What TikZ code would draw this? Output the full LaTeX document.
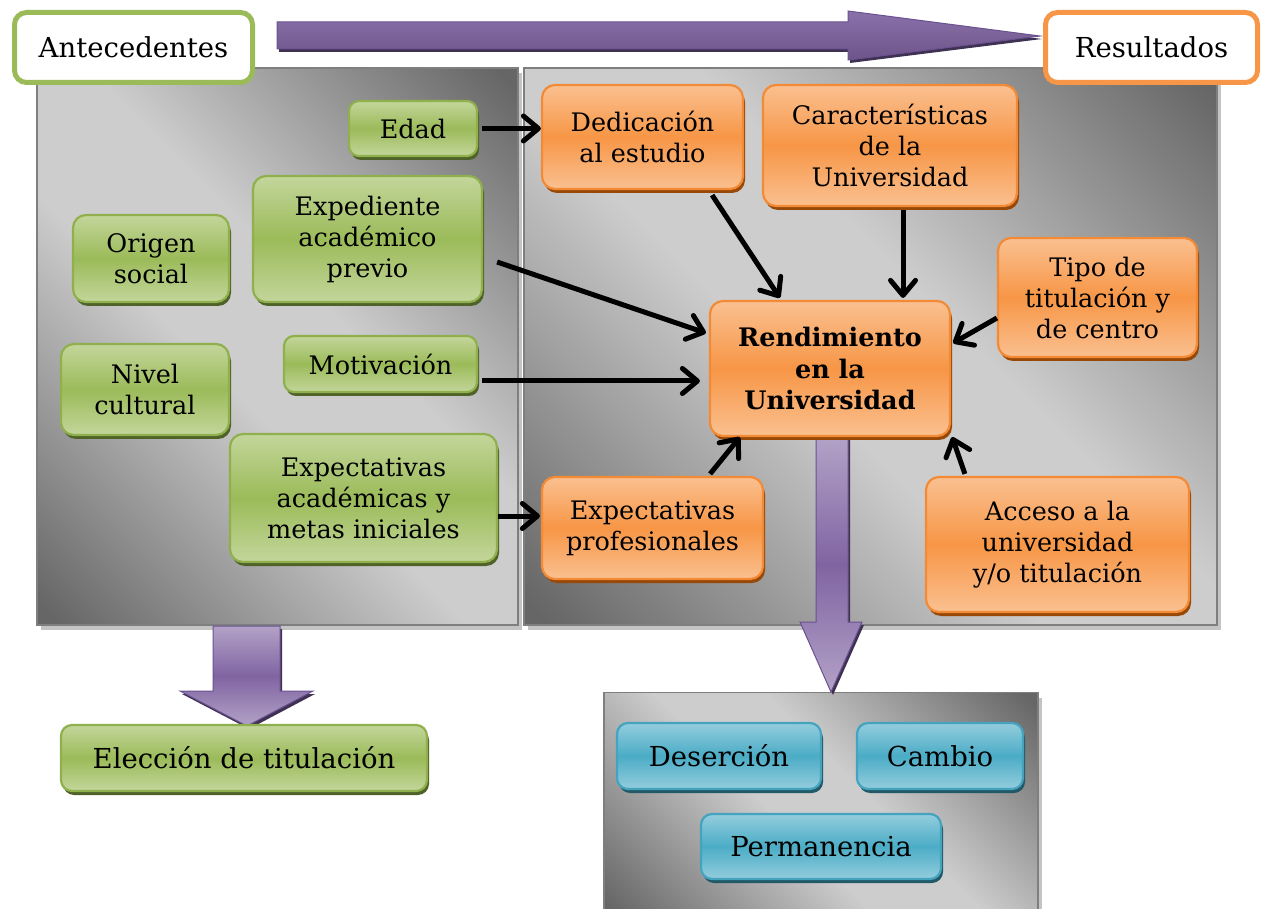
\documentclass[tikz,border=0pt]{standalone}
\usepackage{fontspec}
\setmainfont{DejaVu Serif}
\usetikzlibrary{arrows.meta,shadows,calc}
\definecolor{grnL}{HTML}{C3D69B}
\definecolor{grnM}{HTML}{9BBB59}
\definecolor{grnB}{HTML}{8FB04D}
\definecolor{grnS}{HTML}{4F6228}
\definecolor{orgL}{HTML}{FAC090}
\definecolor{orgM}{HTML}{F79646}
\definecolor{orgB}{HTML}{F38A36}
\definecolor{orgS}{HTML}{984807}
\definecolor{bluL}{HTML}{93CDDD}
\definecolor{bluM}{HTML}{4BACC6}
\definecolor{bluB}{HTML}{45A3BD}
\definecolor{bluS}{HTML}{215968}
\definecolor{purM}{HTML}{8064A2}
\definecolor{purL}{HTML}{B3A2C7}
\definecolor{purB}{HTML}{6A5290}
\definecolor{purS}{HTML}{3F3151}
\definecolor{panD}{HTML}{666666}
\definecolor{panL}{HTML}{CDCDCD}
\definecolor{panB}{HTML}{7F7F7F}
\definecolor{panS}{HTML}{C4C4C4}
\pgfdeclareverticalshading{panelshade}{100bp}{color(0bp)=(panD); color(16bp)=(panD); color(44bp)=(panL); color(56bp)=(panL); color(84bp)=(panD); color(100bp)=(panD)}
\tikzset{
  panel/.style={draw=panB, line width=1.5pt, shading=panelshade, shading angle=-45, inner sep=0pt,
    drop shadow={shadow xshift=4pt, shadow yshift=-5pt, fill=panS, opacity=1}},
  box/.style={rounded corners=13pt, line width=2.2pt, align=center, inner sep=0pt, text=black,
    font=\fontsize{25.5}{31}\selectfont},
  gbox/.style={box, draw=grnB, top color=grnL, bottom color=grnL, middle color=grnM,
    drop shadow={shadow xshift=2pt, shadow yshift=-4pt, fill=grnS, opacity=1}},
  obox/.style={box, draw=orgB, top color=orgL, bottom color=orgL, middle color=orgM,
    drop shadow={shadow xshift=2pt, shadow yshift=-4pt, fill=orgS, opacity=1}},
  bbox/.style={box, draw=bluB, top color=bluL, bottom color=bluL, middle color=bluM,
    font=\fontsize{27.5}{33}\selectfont,
    drop shadow={shadow xshift=2pt, shadow yshift=-4pt, fill=bluS, opacity=1}},
  tbox/.style={rounded corners=12pt, line width=5pt, fill=white, inner sep=0pt, text=black,
    font=\fontsize{27.5}{33}\selectfont},
  parrow/.style={draw=purB, line width=1pt, top color=purL, bottom color=purL, middle color=purM,
    drop shadow={shadow xshift=2pt, shadow yshift=-3pt, fill=purS, opacity=1}},
  parrowh/.style={draw=purB, line width=1pt, top color=purM!80!purL, bottom color=purM!85!black,
    drop shadow={shadow xshift=2pt, shadow yshift=-3pt, fill=purS, opacity=1}},
  arr/.style={draw=black, line width=5pt, -{Straight Barb[length=15pt,width=25pt,round]}}
}
\begin{document}
\begin{tikzpicture}[x=1pt,y=-1pt]
\useasboundingbox (0,0) rectangle (1262,909);

% panels
\node[panel, minimum width=481pt, minimum height=557pt] (lpan) at (277.5,346.5) {};
\node[panel, minimum width=693pt, minimum height=557pt] (rpan) at (870.5,346.5) {};
\node[panel, minimum width=434pt, minimum height=225pt] (bpan) at (821,805) {};

% block arrows
\path[parrowh] (277,22) -- (848,22) -- (848,11) -- (1040,36) -- (848,60) -- (848,49) -- (277,49) -- cycle;
\path[parrow] (213,626) -- (280,626) -- (280,691) -- (313,691) -- (247,726) -- (180,691) -- (213,691) -- cycle;
\path[parrow] (816,437) -- (848,437) -- (848,622) -- (862,622) -- (831,692) -- (800,622) -- (816,622) -- cycle;

% title boxes
\node[tbox, draw=grnM, minimum width=238pt, minimum height=70pt] (ante) at (133.5,47.5) {Antecedentes};
\node[tbox, draw=orgM, minimum width=212pt, minimum height=70pt] (resu) at (1151.5,47.5) {Resultados};

% green nodes
\node[gbox, rounded corners=10pt, minimum width=128pt, minimum height=55pt] (edad) at (413,128.5) {Edad};
\node[gbox, minimum width=229pt, minimum height=126pt] (expe) at (367.5,239) {Expediente\\académico\\previo};
\node[gbox, minimum width=156pt, minimum height=87pt] (orig) at (151,258.5) {Origen\\social};
\node[gbox, rounded corners=10pt, minimum width=193pt, minimum height=56pt] (moti) at (380.5,364) {Motivación};
\node[gbox, minimum width=168pt, minimum height=91pt] (nive) at (145,389.5) {Nivel\\cultural};
\node[gbox, minimum width=267pt, minimum height=128pt] (expa) at (363.5,498) {Expectativas\\académicas y\\metas iniciales};
\node[gbox, font=\fontsize{27.5}{33}\selectfont, rounded corners=11pt, minimum width=366pt, minimum height=66pt] (elec) at (244,758) {Elección de titulación};

% orange nodes
\node[obox, minimum width=201pt, minimum height=104pt] (dedi) at (642.5,137) {Dedicación\\al estudio};
\node[obox, minimum width=254pt, minimum height=121pt] (cara) at (890,145.5) {Características\\de la\\Universidad};
\node[obox, minimum width=199pt, minimum height=119pt] (tipo) at (1097.5,297.5) {Tipo de\\titulación y\\de centro};
\node[obox, minimum width=240pt, minimum height=135pt, font=\fontsize{25.5}{31.5}\selectfont\bfseries] (rend) at (830,368.5) {Rendimiento\\en la\\Universidad};
\node[obox, minimum width=221pt, minimum height=102pt] (expp) at (652.5,528) {Expectativas\\profesionales};
\node[obox, minimum width=263pt, minimum height=135pt] (acce) at (1057.5,544.5) {Acceso a la\\universidad\\y/o titulación};

% blue nodes
\node[bbox, rounded corners=11pt, minimum width=204pt, minimum height=66pt] (dese) at (719,756) {Deserción};
\node[bbox, rounded corners=11pt, minimum width=166pt, minimum height=66pt] (camb) at (940,756) {Cambio};
\node[bbox, rounded corners=11pt, minimum width=240pt, minimum height=65pt] (perm) at (821,846.5) {Permanencia};

% connectors
\draw[arr] ($(edad.east)+(4,0)$) -- ($(dedi.west)+(0,-8.5)$);
\draw[arr] ($(dedi.south east)+(-32,5)$) -- ($(rend.north west)+(71,-2)$);
\draw[arr] ($(cara.south)+(13,3)$) -- ($(rend.north)+(73,-2)$);
\draw[arr] ($(tipo.west)+(0,20.5)$) -- ($(rend.east)+(2,-25.5)$);
\draw[arr] ($(expe.east)+(14,23)$) -- ($(rend.west)+(-3,-35.5)$);
\draw[arr] ($(moti.east)+(4,17)$) -- ($(rend.west)+(-9,12.5)$);
\draw[arr] ($(expa.east)+(0,18)$) -- ($(expp.west)+(-1,-12)$);
\draw[arr] ($(expp.north east)+(-54,-2)$) -- ($(rend.south west)+(31,0)$);
\draw[arr] ($(acce.north west)+(40,-2)$) -- ($(rend.south east)+(1,0)$);
\end{tikzpicture}
\end{document}
